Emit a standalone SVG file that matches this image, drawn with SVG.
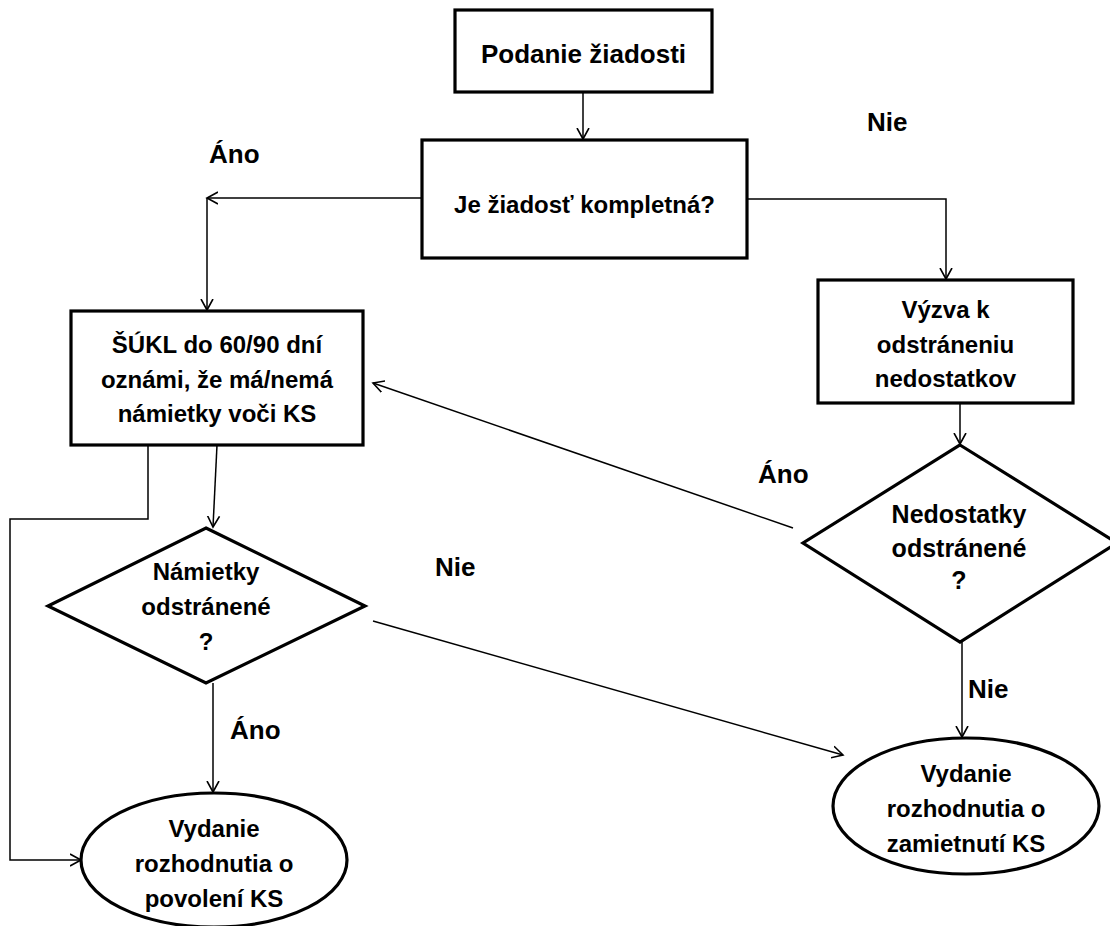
<svg xmlns="http://www.w3.org/2000/svg" width="1110" height="926" viewBox="0 0 1110 926">
<defs>
<marker id="arr" markerUnits="userSpaceOnUse" markerWidth="14" markerHeight="14" refX="11" refY="6" orient="auto" viewBox="0 0 14 12">
<path d="M0,0 L11,6 L0,12" fill="none" stroke="#000" stroke-width="1.6"/>
</marker>
<style>
.shape{fill:#fff;stroke:#000;stroke-width:3.2}
.conn{fill:none;stroke:#000;stroke-width:1.5;marker-end:url(#arr)}
.line{fill:none;stroke:#000;stroke-width:1.5}
text{font-family:"Liberation Sans",Arial,sans-serif;font-weight:bold;fill:#000}
.t{font-size:24px;text-anchor:middle}
.lbl{font-size:26px}
</style>
</defs>
<rect width="1110" height="926" fill="#fff"/>
<g id="connectors">
<path class="conn" d="M583,92 L583,139"/>
<path class="conn" d="M422,198 L207,198"/>
<path class="conn" d="M207,198 L207,310"/>
<path class="conn" d="M747,199 L946,199 L946,279"/>
<path class="conn" d="M960,403 L960,444"/>
<path class="conn" d="M793,528 L373,383"/>
<path class="conn" d="M217,445 L213,527"/>
<path class="conn" d="M148,445 L148,519 L10,519 L10,860 L81,860"/>
<path class="conn" d="M213,683 L213,792"/>
<path class="conn" d="M373,621 L843,755"/>
<path class="conn" d="M962,642 L962,737"/>
</g>
<g id="labels">
<text class="lbl" x="209" y="163">Áno</text>
<text class="lbl" x="867" y="131">Nie</text>
<text class="lbl" x="758" y="483">Áno</text>
<text class="lbl" x="435" y="576">Nie</text>
<text class="lbl" x="230" y="739">Áno</text>
<text class="lbl" x="968" y="698">Nie</text>
</g>
<g id="podanie">
<rect class="shape" x="455" y="10" width="257" height="82"/>
<text class="t" x="583.5" y="63" style="font-size:26px">Podanie žiadosti</text>
</g>
<g id="kompletna">
<rect class="shape" x="422" y="140" width="325" height="118"/>
<text class="t" x="584.5" y="213">Je žiadosť kompletná?</text>
</g>
<g id="sukl">
<rect class="shape" x="71" y="311" width="292" height="134"/>
<text class="t" x="217" y="353">ŠÚKL do 60/90 dní</text>
<text class="t" x="217" y="388">oznámi, že má/nemá</text>
<text class="t" x="217" y="422">námietky voči KS</text>
</g>
<g id="vyzva">
<rect class="shape" x="818" y="280" width="255" height="123"/>
<text class="t" x="945.5" y="318">Výzva k</text>
<text class="t" x="945.5" y="353">odstráneniu</text>
<text class="t" x="945.5" y="387">nedostatkov</text>
</g>
<g id="nedostatky">
<polygon class="shape" points="960,445 1117,543 960,642 803,543"/>
<text class="t" x="959" y="523" style="font-size:25px">Nedostatky</text>
<text class="t" x="959" y="557" style="font-size:25px">odstránené</text>
<text class="t" x="959" y="589" style="font-size:25px">?</text>
</g>
<g id="namietky">
<polygon class="shape" points="206,528 365,606 206,683 48,606"/>
<text class="t" x="206" y="580">Námietky</text>
<text class="t" x="206" y="615">odstránené</text>
<text class="t" x="206" y="650">?</text>
</g>
<g id="povolenie">
<ellipse class="shape" cx="214" cy="860" rx="133" ry="67"/>
<text class="t" x="214" y="837">Vydanie</text>
<text class="t" x="214" y="872">rozhodnutia o</text>
<text class="t" x="214" y="907">povolení KS</text>
</g>
<g id="zamietnutie">
<ellipse class="shape" cx="966" cy="806" rx="133" ry="68"/>
<text class="t" x="966" y="782">Vydanie</text>
<text class="t" x="966" y="817">rozhodnutia o</text>
<text class="t" x="966" y="852">zamietnutí KS</text>
</g>
</svg>
